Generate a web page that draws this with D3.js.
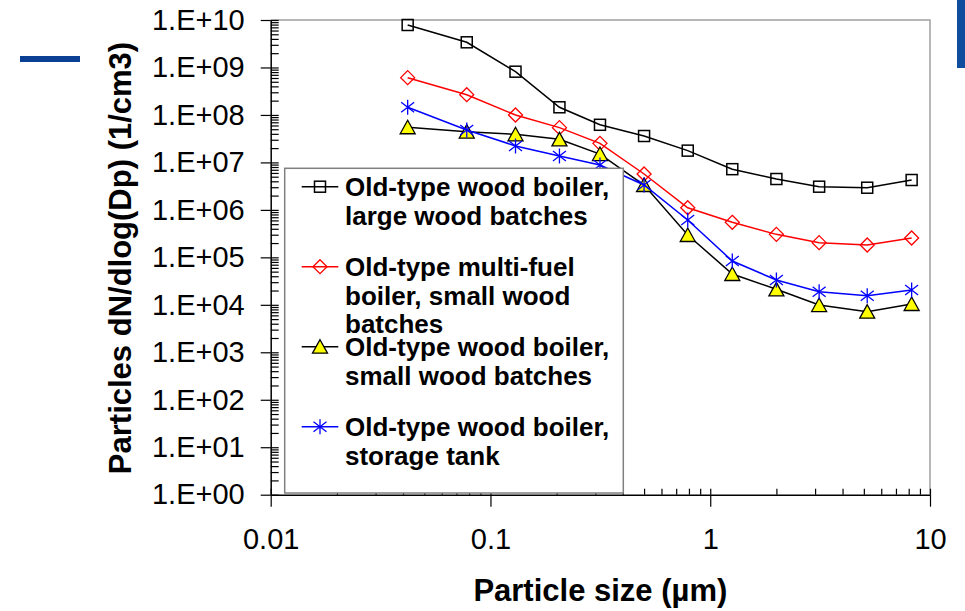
<!DOCTYPE html>
<html>
  <head>
    <meta charset="utf-8">
    <title>Particle size distribution</title>
    <script src="https://d3js.org/d3.v7.min.js"></script>
    <style>
      body { margin: 0; background: #fff; }
      text { font-family: "Liberation Sans", Arial, sans-serif; }
    </style>
  </head>
  <body>
    <script>

    // particle size (um), stage midpoints
    var sizes = [0.042, 0.078, 0.13, 0.206, 0.315, 0.5, 0.79, 1.26, 2.0, 3.13, 5.18, 8.25];

    var largeBatches = [7.85e9, 3.39e9, 8.15e8, 1.45e8, 6.2e7, 3.6e7, 1.77e7, 7.2e6, 4.47e6, 3.08e6, 2.93e6, 4.26e6];
    var multiFuel    = [6.1e8, 2.67e8, 9.97e7, 5.4e7, 2.52e7, 5.7e6, 1.11e6, 5.47e5, 3.05e5, 2.04e5, 1.82e5, 2.56e5];
    var smallBatches = [5.5e7, 4.44e7, 3.91e7, 3.06e7, 1.5e7, 3.34e6, 2.96e5, 4.46e4, 2.12e4, 9.9e3, 7.16e3, 1.04e4];
    var storageTank  = [1.45e8, 4.82e7, 2.22e7, 1.36e7, 8.8e6, 3.34e6, 6.12e5, 8.37e4, 3.33e4, 1.89e4, 1.56e4, 2.05e4];

    var seriesNames = [
      ["Old-type wood boiler,", "large wood batches"],
      ["Old-type multi-fuel", "boiler, small wood", "batches"],
      ["Old-type wood boiler,", "small wood batches"],
      ["Old-type wood boiler,", "storage tank"]
    ];

    var xTicks = [0.01, 0.1, 1, 10];
    var xTickLabels = ["0.01", "0.1", "1", "10"];
    var yTicks = [1, 1e1, 1e2, 1e3, 1e4, 1e5, 1e6, 1e7, 1e8, 1e9, 1e10];

    var width = 965, height = 611;
    var plotLeft = 270.7, plotRight = 930, plotTop = 20, plotBottom = 494.7;   // plot area

    var svg = d3.select("body").append("svg")
                .attr("width", width)
                .attr("height", height);

    // slide decorations
    svg.append("rect").attr("x", 20).attr("y", 56).attr("width", 60).attr("height", 6).attr("fill", "#0b3f93");
    svg.append("rect").attr("x", 957).attr("y", 0).attr("width", 8).attr("height", 68).attr("fill", "#0f4d9f");

    var x = d3.scaleLog().domain([0.01, 10]).range([plotLeft, plotRight]);
    var y = d3.scaleLog().domain([1, 1e10]).range([plotBottom, plotTop]);

    // plot border (gray top/right)
    svg.append("path")
       .attr("d", "M" + plotLeft + "," + plotTop + "H" + plotRight + "V" + plotBottom)
       .attr("fill", "none").attr("stroke", "#a0a0a0").attr("stroke-width", 1.5);

    // minor tick values
    var xMinor = [], yMinor = [];
    xTicks.slice(0, -1).forEach(function(t) { for (var k = 2; k < 10; k++) xMinor.push(t * k); });
    yTicks.slice(0, -1).forEach(function(t) { for (var k = 2; k < 10; k++) yMinor.push(t * k); });

    function styleAxis(g) {
      g.selectAll("line").attr("stroke", "#000").attr("stroke-width", 1.2);
      g.selectAll("path").attr("stroke", "#000").attr("stroke-width", 1.5);
    }

    // y axis
    var gy = svg.append("g").attr("transform", "translate(" + plotLeft + ",0)");
    gy.append("g").call(d3.axisRight(y).tickValues(yMinor).tickSize(8).tickFormat(""))
      .call(styleAxis).select(".domain").remove();
    gy.append("g").call(d3.axisRight(y).tickValues(yTicks).tickSize(8).tickFormat(""))
      .call(styleAxis).select(".domain").remove();
    gy.append("g")
      .call(d3.axisLeft(y).tickValues(yTicks).tickSizeInner(10).tickSizeOuter(0).tickPadding(16)
              .tickFormat(function(d) { return "1.E+" + String(Math.round(Math.log10(d))).padStart(2, "0"); }))
      .call(styleAxis)
      .selectAll("text").attr("font-size", 29).attr("fill", "#000")
      .attr("font-family", "Liberation Sans, Arial, sans-serif");

    // x axis
    var gx = svg.append("g").attr("transform", "translate(0," + plotBottom + ")");
    gx.append("g").call(d3.axisTop(x).tickValues(xMinor).tickSize(6).tickFormat(""))
      .call(styleAxis).select(".domain").remove();
    gx.append("g").call(d3.axisTop(x).tickValues(xTicks).tickSize(6).tickFormat(""))
      .call(styleAxis).select(".domain").remove();
    gx.append("g")
      .call(d3.axisBottom(x).tickValues(xTicks).tickSizeInner(12).tickSizeOuter(0).tickPadding(22)
              .tickFormat(function(d, i) { return xTickLabels[i]; }))
      .call(styleAxis)
      .selectAll("text").attr("font-size", 29).attr("fill", "#000")
      .attr("font-family", "Liberation Sans, Arial, sans-serif");

    // axis titles
    svg.append("text")
       .attr("x", (plotLeft + plotRight) / 2).attr("y", 601)
       .attr("text-anchor", "middle").attr("font-size", 31).attr("font-weight", "bold")
       .text("Particle size (µm)");

    svg.append("text")
       .attr("transform", "translate(131,258) rotate(-90)")
       .attr("text-anchor", "middle").attr("font-size", 31).attr("font-weight", "bold")
       .text("Particles dN/dlog(Dp) (1/cm3)");

    // marker drawing
    function marker(g, type, cx, cy) {
      if (type === "square") {
        g.append("rect").attr("x", cx - 5.5).attr("y", cy - 5.5).attr("width", 11).attr("height", 11)
         .attr("fill", "none").attr("stroke", "#000").attr("stroke-width", 1.5);
      } else if (type === "diamond") {
        g.append("path").attr("d", "M" + cx + "," + (cy - 7) + "L" + (cx + 7) + "," + cy + "L" + cx + "," + (cy + 7) + "L" + (cx - 7) + "," + cy + "Z")
         .attr("fill", "none").attr("stroke", "#ff0000").attr("stroke-width", 1.3);
      } else if (type === "triangle") {
        g.append("path").attr("d", "M" + cx + "," + (cy - 7) + "L" + (cx + 7.5) + "," + (cy + 6.5) + "L" + (cx - 7.5) + "," + (cy + 6.5) + "Z")
         .attr("fill", "#ffff00").attr("stroke", "#000").attr("stroke-width", 1.3);
      } else {
        g.append("path").attr("d", "M" + cx + "," + (cy - 7.5) + "V" + (cy + 7.5) +
                                   "M" + (cx - 6.5) + "," + (cy - 5) + "L" + (cx + 6.5) + "," + (cy + 5) +
                                   "M" + (cx - 6.5) + "," + (cy + 5) + "L" + (cx + 6.5) + "," + (cy - 5))
         .attr("fill", "none").attr("stroke", "#0000ff").attr("stroke-width", 1.3);
      }
    }

    var series = [
      { values: largeBatches, color: "#000000", type: "square" },
      { values: multiFuel,    color: "#ff0000", type: "diamond" },
      { values: smallBatches, color: "#000000", type: "triangle" },
      { values: storageTank,  color: "#0000ff", type: "star" }
    ];

    var line = d3.line()
                 .x(function(d) { return x(d[0]); })
                 .y(function(d) { return y(d[1]); });

    series.forEach(function(s) {
      var pts = sizes.map(function(d, i) { return [d, s.values[i]]; });
      var g = svg.append("g");
      g.append("path").attr("d", line(pts))
       .attr("fill", "none").attr("stroke", s.color).attr("stroke-width", 1.5);
      pts.forEach(function(p) { marker(g, s.type, x(p[0]), y(p[1])); });
    });

    // legend
    var legend = svg.append("g");
    legend.append("rect")
          .attr("x", 284.7).attr("y", 168.3).attr("width", 338.6).attr("height", 324.7)
          .attr("fill", "#fff").attr("stroke", "#808080").attr("stroke-width", 1.5);

    series.forEach(function(s, i) {
      var sy = 186.7 + i * 80;
      legend.append("line").attr("x1", 301.7).attr("x2", 338.3).attr("y1", sy).attr("y2", sy)
            .attr("stroke", s.color).attr("stroke-width", 1.5);
      marker(legend, s.type, 320, sy);
      var t = legend.append("text").attr("font-size", 26).attr("font-weight", "bold").attr("fill", "#000");
      seriesNames[i].forEach(function(txt, j) {
        t.append("tspan").attr("x", 345).attr("y", sy + 9.5 + j * 28.5).text(txt);
      });
    });

    </script>
  </body>
</html>
